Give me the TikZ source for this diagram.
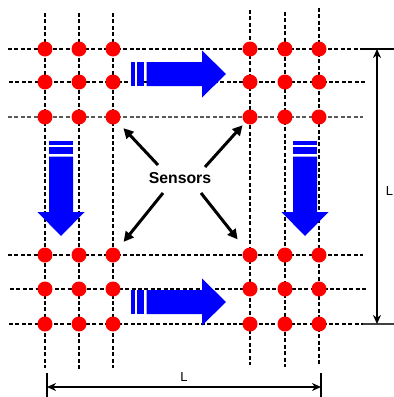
\documentclass[tikz,border=0pt]{standalone}
\usepackage{fontspec}
\setsansfont{Liberation Sans}
\usetikzlibrary{arrows.meta}

\tikzset{
  sensor/.style={circle, fill=red, inner sep=0pt, minimum size=7.5pt},
  gridline/.style={line width=1pt, dash pattern=on 2pt off 1.2pt},
  flow/.style={fill=blue},
  pointer/.style={line width=1.5pt, -{Triangle[length=5pt,width=5pt]}},
  dimline/.style={line width=1.1pt, {Stealth[length=4.5pt,width=4pt]}-{Stealth[length=4.5pt,width=4pt]}},
  dimlabel/.style={font={\sffamily\fontsize{6.5}{8}\selectfont}, inner sep=0pt}
}

\begin{document}
\begin{tikzpicture}[x=0.5pt,y=-0.5pt, font=\sffamily]
\useasboundingbox (0,0) rectangle (394,397);
% grid lines
\foreach \x/\a/\b/\w in {45/13/368/1pt, 79/13/370/1pt, 113/13/368/1.4pt, 250/10/365/1pt, 285/12/367/1pt, 319/8/366/1.4pt}
  \draw[gridline, line width=\w] (\x,\a) -- (\x,\b);
\foreach \y/\a/\b in {49/8/360, 82/9/366, 255/8/363, 289/10/366, 324/9/363}
  \draw[gridline] (\a,\y) -- (\b,\y);
\draw[gridline, black!65, line width=0.9pt] (8,117) -- (363,117);

% sensor clusters
\foreach \c/\xa/\xb/\xc/\ya/\yb/\yc in {tl/45/79/113/49/82/117, tr/250/285/319/49/82/117,
    bl/45/79/113/255/289/324, br/250/285/319/255/289/324}
  \foreach \x [count=\i] in {\xa,\xb,\xc}
    \foreach \y [count=\j] in {\ya,\yb,\yc}
      \node[sensor] (\c-\j-\i) at (\x,\y) {};

% flow arrows
\foreach \x/\y/\r in {131/74/0, 131/302/0, 61/141/-90, 305/141/-90}
{
  \begin{scope}[shift={(\x,\y)}, rotate=\r]
    \fill[flow] (0,-12) rectangle (4,12);
    \fill[flow] (5.5,-12) rectangle (12.5,12);
    \fill[flow] (15.5,-12) -- (71,-12) -- (71,-23.5) -- (95,0) -- (71,23.5) -- (71,12) -- (15.5,12) -- cycle;
  \end{scope}
}

% label and pointers
\node[font={\sffamily\bfseries\fontsize{7.9}{9}\selectfont}] (sensors) at (180,178) {Sensors};
\coordinate (p-tl) at (158,165);
\coordinate (p-tr) at (205,167);
\coordinate (p-bl) at (163,193);
\coordinate (p-br) at (201,193);
\foreach \p/\d/\s in {tl/tl-3-3/3.7pt, tr/tr-3-1/1.6pt, bl/bl-1-3/4.5pt, br/br-1-1/6pt}
  \draw[pointer, shorten >=\s] (p-\p) -- (\d);

% dimensions
\draw[line width=1.1pt] (360,49) -- (394,49);
\draw[line width=1.1pt, black!75] (363,324) -- (394,324);
\coordinate (dim-t) at (377,49);
\coordinate (dim-b) at (377,324);
\draw[dimline] (dim-t) -- (dim-b);
\node[dimlabel] (len-v) at (389.5,191) {L};

\draw[line width=1.1pt] (47,373) -- (47,397);
\draw[line width=1.1pt] (321,373) -- (321,397);
\coordinate (dim-l) at (47,387);
\coordinate (dim-r) at (321,387);
\draw[dimline] (dim-l) -- (dim-r);
\node[dimlabel] (len-h) at (184,377) {L};
\end{tikzpicture}
\end{document}
